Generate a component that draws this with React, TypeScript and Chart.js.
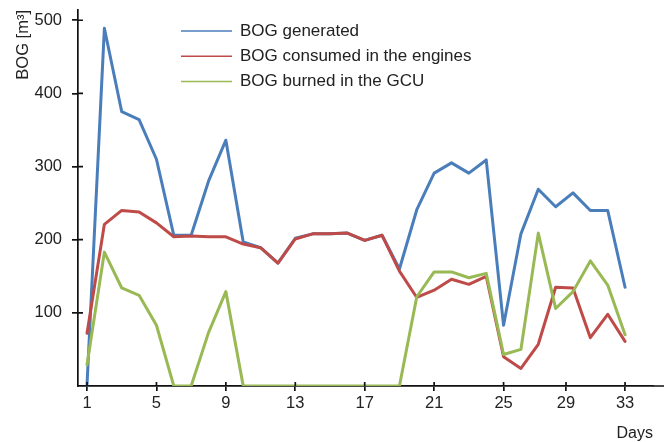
import React, { useEffect, useRef } from "react";
import { Chart, registerables } from "chart.js";

Chart.register(...registerables);

// ---- data ----
const samples = [
  1, 2, 3, 4, 5, 6, 7, 8, 9, 10, 11, 12, 13, 14, 15, 16,
  17, 18, 19, 20, 21, 22, 23, 24, 25, 26, 27, 28, 29, 30, 31, 32,
];
const bogGenerated = [
  2, 489, 375, 364, 310, 206, 206, 280, 336, 197, 189, 168, 202, 208, 208, 209,
  199, 206, 160, 241, 291, 305, 291, 309, 83, 208, 269, 245, 264, 240, 240, 135,
];
const bogConsumed = [
  72, 221, 240, 238, 223, 204, 205, 204, 204, 194, 189, 168, 201, 208, 208, 209,
  199, 206, 157, 121, 131, 146, 139, 150, 40, 24, 57, 135, 134, 66, 98, 61,
];
const bogBurned = [
  29, 183, 134, 124, 83, 0, 0, 73, 129, 0, 0, 0, 0, 0, 0, 0,
  0, 0, 0, 122, 156, 156, 148, 154, 43, 50, 209, 106, 129, 171, 138, 70,
];
const seriesNames = [
  "BOG generated",
  "BOG consumed in the engines",
  "BOG burned in the GCU",
];
const xTickPositions = [1, 5, 9, 13, 17, 21, 25, 28.6, 32];
const xTickLabels = ["1", "5", "9", "13", "17", "21", "25", "29", "33"];
const yTicks = [100, 200, 300, 400, 500];

// ---- style ----
const FONT = '"Liberation Sans", Arial, Helvetica, sans-serif';
const AXIS = "#111111";
const AXIS_W = 1.7;
const TEXT = "#222222";
const COLORS = ["#4A7EBB", "#BE4B48", "#98B954"];

const decorPlugin = {
  id: "decor",
  afterDraw(chart: any) {
    const { ctx, chartArea: ca } = chart;
    const xs = chart.scales.x;
    const ys = chart.scales.y;
    ctx.save();
    ctx.strokeStyle = AXIS;
    ctx.lineWidth = AXIS_W;
    ctx.beginPath();
    // x axis continues past the plot to the right edge
    ctx.moveTo(ca.right, ca.bottom);
    ctx.lineTo(chart.width, ca.bottom);
    // inner halves of the crossing tick marks
    ys.ticks.forEach((t: any) => {
      const y = ys.getPixelForValue(t.value);
      ctx.moveTo(ca.left, y);
      ctx.lineTo(ca.left + 5, y);
    });
    xs.ticks.forEach((t: any) => {
      const x = xs.getPixelForValue(t.value);
      ctx.moveTo(x, ca.bottom);
      ctx.lineTo(x, ca.bottom - 4);
    });
    ctx.stroke();

    // legend inside the plot
    const lx0 = ca.left + 103;
    const lx1 = ca.left + 154;
    const ly0 = ca.top + 21;
    const step = 25.3;
    ctx.font = `17px ${FONT}`;
    ctx.textBaseline = "middle";
    ctx.textAlign = "left";
    chart.data.datasets.forEach((ds: any, i: number) => {
      const y = ly0 + i * step;
      ctx.beginPath();
      ctx.strokeStyle = ds.borderColor;
      ctx.lineWidth = 1.5;
      ctx.moveTo(lx0, y);
      ctx.lineTo(lx1, y);
      ctx.stroke();
      ctx.fillStyle = TEXT;
      ctx.fillText(ds.label, lx1 + 8, y);
    });
    ctx.restore();
  },
};

export default function App() {
  const canvasRef = useRef<HTMLCanvasElement | null>(null);

  useEffect(() => {
    const canvas = canvasRef.current;
    if (!canvas) return;
    const series = [bogGenerated, bogConsumed, bogBurned];
    const drawOrder = [2, 1, 0];
    const chart = new Chart(canvas, {
      type: "line",
      data: {
        datasets: series.map((vals, i) => ({
          label: seriesNames[i],
          data: samples.map((d, k) => ({ x: d, y: vals[k] })),
          borderColor: COLORS[i],
          backgroundColor: COLORS[i],
          borderWidth: 3,
          pointRadius: 0,
          tension: 0,
          borderJoinStyle: "round" as const,
          borderCapStyle: "round" as const,
          order: drawOrder[i],
        })),
      },
      options: {
        responsive: false,
        animation: false,
        layout: { padding: { top: 10, right: 11, left: 0, bottom: 0 } },
        plugins: {
          legend: { display: false },
          tooltip: { enabled: false },
        },
        scales: {
          x: {
            type: "linear",
            min: 0.48,
            max: 33.61,
            border: { display: true, color: AXIS, width: AXIS_W },
            grid: {
              drawOnChartArea: false,
              drawTicks: true,
              tickLength: 5,
              color: AXIS,
              lineWidth: AXIS_W,
            },
            ticks: {
              autoSkip: false,
              maxRotation: 0,
              padding: 3,
              color: TEXT,
              font: { family: FONT, size: 16.5 },
              callback: (_v: any, i: number) => xTickLabels[i],
            },
            afterBuildTicks: (s: any) => {
              s.ticks = xTickPositions.map((v) => ({ value: v }));
            },
            afterFit: (s: any) => {
              s.height = 56;
              s.paddingLeft = 0;
              s.paddingRight = 0;
            },
            title: {
              display: true,
              text: "Days",
              align: "end",
              color: TEXT,
              font: { family: FONT, size: 16, lineHeight: 1 },
              padding: 0,
            },
          },
          y: {
            type: "linear",
            min: 0,
            max: 514,
            border: { display: true, color: AXIS, width: AXIS_W },
            grid: {
              drawOnChartArea: false,
              drawTicks: true,
              tickLength: 6,
              color: AXIS,
              lineWidth: AXIS_W,
            },
            ticks: {
              padding: 10,
              color: TEXT,
              font: { family: FONT, size: 16.5 },
            },
            afterBuildTicks: (s: any) => {
              s.ticks = yTicks.map((v) => ({ value: v }));
            },
            afterFit: (s: any) => {
              s.width = 78;
              s.paddingTop = 0;
              s.paddingBottom = 0;
            },
            title: {
              display: true,
              text: "BOG [m³]",
              align: "end",
              color: TEXT,
              font: { family: FONT, size: 16.5 },
              padding: { top: 14, bottom: 0 },
            },
          },
        },
      },
      plugins: [decorPlugin],
    });
    return () => chart.destroy();
  }, []);

  return (
    <div style={{ position: "absolute", left: 0, top: 0, width: 664, height: 442, background: "#fff" }}>
      <canvas ref={canvasRef} width={664} height={442} style={{ display: "block" }} />
    </div>
  );
}
